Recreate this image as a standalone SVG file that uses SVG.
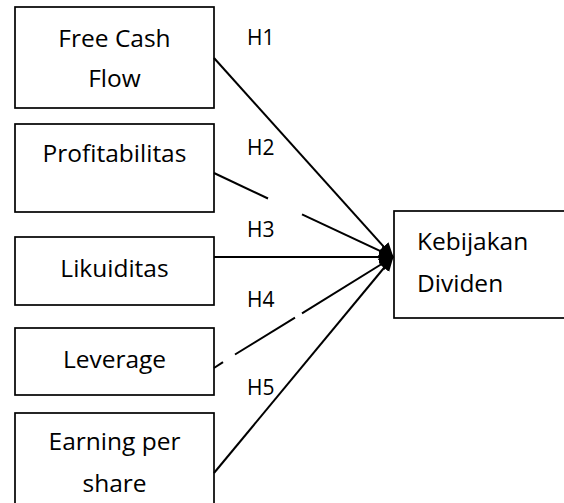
<svg xmlns="http://www.w3.org/2000/svg" width="564" height="503" viewBox="0 0 564 503">
<style>
.box{fill:#fff;stroke:#000;stroke-width:1.7}
.t{font-family:"Open Sans","Noto Sans",sans-serif;font-size:24.5px;fill:#000}
.h{font-family:"Open Sans","Noto Sans",sans-serif;font-size:21px;fill:#000}
.c{stroke:#000;stroke-width:2;fill:none}
</style>
<defs>
<marker id="ah" markerUnits="userSpaceOnUse" markerWidth="16" markerHeight="14" refX="14" refY="7" orient="auto">
<path d="M0,0.5 L15,7 L0,13.5 z" fill="#000"/>
</marker>
</defs>
<g id="n1"><rect class="box" x="15" y="7" width="199" height="101"/><text class="t" x="114.5" y="47" text-anchor="middle">Free Cash</text><text class="t" x="114.5" y="87" text-anchor="middle">Flow</text></g>
<g id="n2"><rect class="box" x="15" y="124" width="199" height="88"/><text class="t" x="114.5" y="162" text-anchor="middle">Profitabilitas</text></g>
<g id="n3"><rect class="box" x="15" y="237" width="199" height="68"/><text class="t" x="114.5" y="277" text-anchor="middle">Likuiditas</text></g>
<g id="n4"><rect class="box" x="15" y="328" width="199" height="67"/><text class="t" x="114.5" y="368" text-anchor="middle">Leverage</text></g>
<g id="n5"><rect class="box" x="15" y="413" width="199" height="100"/><text class="t" x="114.5" y="450" text-anchor="middle">Earning per</text><text class="t" x="114.5" y="492" text-anchor="middle">share</text></g>
<g id="n6"><rect class="box" x="394" y="211" width="180" height="107"/><text class="t" x="417" y="250">Kebijakan</text><text class="t" x="417" y="292">Dividen</text></g>
<g id="connectors">
<line class="c" x1="214" y1="58" x2="393" y2="257" marker-end="url(#ah)"/>
<line class="c" x1="214" y1="173" x2="268" y2="198.5"/>
<line class="c" x1="302" y1="214.3" x2="393" y2="257" marker-end="url(#ah)"/>
<line class="c" x1="214" y1="257" x2="393" y2="257" marker-end="url(#ah)"/>
<line class="c" x1="214" y1="368" x2="223" y2="362.2"/>
<line class="c" x1="235" y1="354.5" x2="295" y2="317.7"/>
<line class="c" x1="302" y1="313.4" x2="393" y2="257" marker-end="url(#ah)"/>
<line class="c" x1="214" y1="473" x2="393" y2="257" marker-end="url(#ah)"/>
</g>
<g id="labels">
<text class="h" x="247" y="45">H1</text>
<text class="h" x="247" y="155">H2</text>
<text class="h" x="247" y="237">H3</text>
<text class="h" x="247" y="307">H4</text>
<text class="h" x="247" y="395">H5</text>
</g>
</svg>
